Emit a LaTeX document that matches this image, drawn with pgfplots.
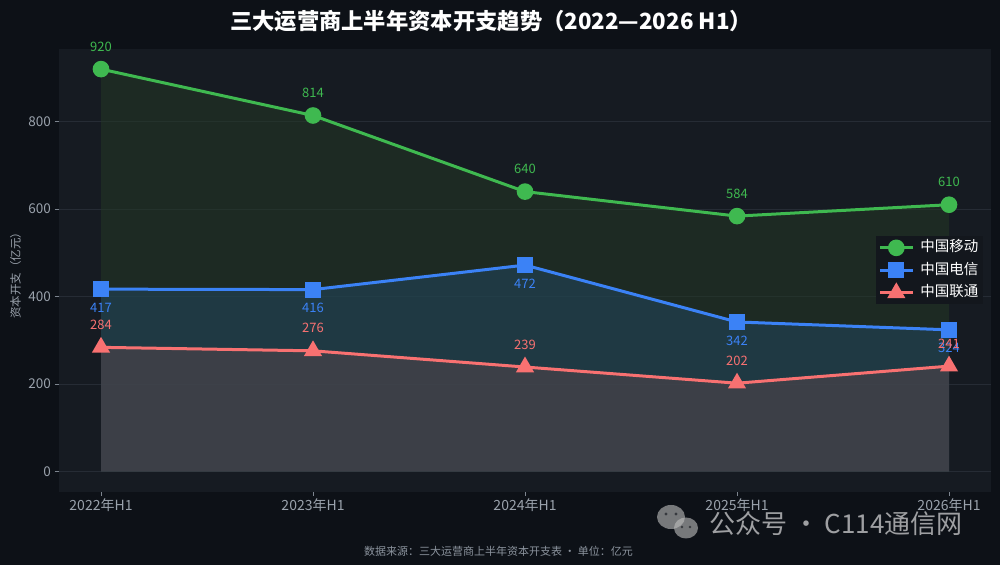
\documentclass[border=0pt]{standalone}
\usepackage{fontspec}
\setmainfont{Noto Sans CJK SC}
\usepackage{pgfplots}
\pgfplotsset{compat=1.18}
\definecolor{bgout}{HTML}{0D1117}
\definecolor{bgplot}{HTML}{161B22}
\definecolor{gridc}{HTML}{262C35}
\definecolor{tickc}{HTML}{7D858F}
\definecolor{labc}{HTML}{9AA2AC}
\definecolor{notec}{HTML}{8B939D}
\definecolor{cg}{HTML}{3FB950}
\definecolor{cb}{HTML}{3B82F6}
\definecolor{cr}{HTML}{F87171}
\definecolor{fg}{RGB}{36,57,36}
\definecolor{fb}{RGB}{33,72,99}
\definecolor{fr}{RGB}{89,69,75}
\definecolor{legbg}{RGB}{19,23,29}
\pgfplotsset{/pgf/number format/assume math mode=true}
\begin{document}
\begin{tikzpicture}[x=1bp,y=1bp]
\fill[bgout] (0,0) rectangle (1000,565);
\path[use as bounding box] (0,0) rectangle (1000,565);
\begin{axis}[
  at={(58.6bp,73.3bp)}, anchor=south west, scale only axis,
  width=932.8bp, height=442.7bp,
  xmin=-0.2, xmax=4.2, ymin=-46, ymax=966,
  axis background/.style={fill=bgplot},
  axis line style={draw=none},
  xtick={0,1,2,3,4},
  xticklabels={2022年H1,2023年H1,2024年H1,2025年H1,2026年H1},
  ytick={0,200,400,600,800},
  ymajorgrids, grid style={gridc, line width=0.8bp},
  tick style={tickc, line width=0.8bp}, major tick length=4bp, tick align=outside,
  xtick pos=bottom, ytick pos=left,
  xticklabel style={font=\fontsize{14bp}{14bp}\selectfont, text=labc, inner sep=3bp},
  yticklabel style={font=\fontsize{13.5bp}{14bp}\selectfont, text=labc, inner sep=3.5bp},
  legend style={at={(0.991,0.5)}, anchor=east, fill=legbg, draw=none, text=white,
    font=\fontsize{14.5bp}{14.5bp}\selectfont, inner sep=2.5bp, row sep=4.5bp, column sep=4bp,
    nodes={inner sep=2bp, text height=11bp, text depth=3bp}, cells={anchor=west}},
  legend image code/.code={\draw[mark repeat=2, mark phase=2] plot coordinates {(0bp,0bp) (16.5bp,0bp) (33bp,0bp)};},
]
% area fills
\addplot[draw=none, fill=fg, fill opacity=0.5, forget plot] coordinates {(0,0) (0,920) (1,814) (2,640) (3,584) (4,610) (4,0)};
\addplot[draw=none, fill=fb, fill opacity=0.5, forget plot] coordinates {(0,0) (0,417) (1,416) (2,472) (3,342) (4,324) (4,0)};
\addplot[draw=none, fill=fr, fill opacity=0.5, forget plot] coordinates {(0,0) (0,284) (1,276) (2,239) (3,202) (4,241) (4,0)};
% lines
\addplot[cg, line width=3bp, mark=*, mark size=6.8bp, mark options={draw=none, fill=cg},
  nodes near coords, nodes near coords style={anchor=center, yshift=22.5bp, font=\fontsize{13bp}{13bp}\selectfont, text=cg}]
  coordinates {(0,920) (1,814) (2,640) (3,584) (4,610)};
\addlegendentry{中国移动}
\addplot[cb, line width=3bp, mark=square*, mark size=6.5bp, mark options={draw=none, fill=cb},
  nodes near coords, nodes near coords style={anchor=center, yshift=-18.5bp, font=\fontsize{13bp}{13bp}\selectfont, text=cb}]
  coordinates {(0,417) (1,416) (2,472) (3,342) (4,324)};
\addlegendentry{中国电信}
\addplot[cr, line width=3bp, mark=triangle*, mark size=7.5bp, mark options={draw=none, fill=cr},
  nodes near coords, nodes near coords style={anchor=center, yshift=22.5bp, font=\fontsize{13bp}{13bp}\selectfont, text=cr}]
  coordinates {(0,284) (1,276) (2,239) (3,202) (4,241)};
\addlegendentry{中国联通}
\end{axis}
% title, labels
\node[text=white, font=\bfseries\fontsize{22.3bp}{23bp}\selectfont] at (491,543.5) {三大运营商上半年资本开支趋势（2022—2026 H1）};
\node[rotate=90, text=labc, font=\fontsize{11.5bp}{12bp}\selectfont] at (15.5,292) {资本开支（亿元）};
\node[text=notec, font=\fontsize{11bp}{12bp}\selectfont] at (498.5,14) {数据来源：三大运营商上半年资本开支表 · 单位：亿元};
% watermark
\begin{scope}[opacity=0.6]
\fill[white!75!black] (671,48) ellipse (14bp and 12bp);
\fill[white!75!black] (686,37) ellipse (12bp and 10.5bp);
\fill[bgout] (666,51) circle (1.6bp); \fill[bgout] (676,51) circle (1.6bp);
\fill[bgout] (682,38) circle (1.4bp); \fill[bgout] (690,38) circle (1.4bp);
\node[text=white, font=\fontsize{26bp}{27bp}\selectfont, inner sep=0pt] at (836,41) {公众号 · C114通信网};
\end{scope}
\end{tikzpicture}
\end{document}
